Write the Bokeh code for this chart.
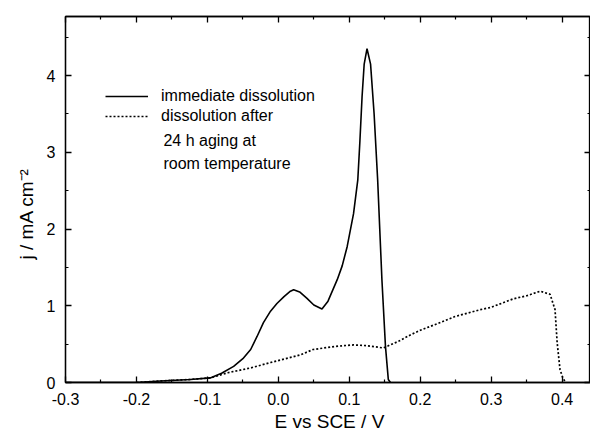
from bokeh.plotting import figure
from bokeh.models import (LinearAxis, FixedTicker, Label, Legend, LegendItem, Range1d, Title)
from bokeh.embed import file_html
from bokeh.resources import INLINE

# ---- data ----
immediate_E = [-0.30, -0.25, -0.20, -0.166, -0.124, -0.096, -0.08, -0.063, -0.05, -0.039,
               -0.03, -0.021, -0.011, -0.002, 0.008, 0.017, 0.0216, 0.03, 0.04, 0.05,
               0.0615, 0.07, 0.083, 0.09, 0.097, 0.106, 0.112, 0.115, 0.118, 0.121, 0.125,
               0.130, 0.135, 0.140, 0.146, 0.151, 0.155, 0.158]
immediate_j = [0.0, 0.0, 0.0, 0.02, 0.04, 0.06, 0.12, 0.21, 0.31, 0.43,
               0.60, 0.78, 0.93, 1.03, 1.12, 1.19, 1.21, 1.18, 1.10, 1.01,
               0.957, 1.06, 1.34, 1.52, 1.77, 2.20, 2.64, 3.15, 3.72, 4.15, 4.35,
               4.15, 3.50, 2.64, 1.34, 0.47, 0.04, 0.0]

aged_E = [-0.20, -0.166, -0.124, -0.096, -0.07, -0.039, -0.011, 0.031, 0.049, 0.08,
          0.106, 0.125, 0.148, 0.17, 0.186, 0.20, 0.225, 0.249, 0.285, 0.30,
          0.331, 0.35, 0.369, 0.383, 0.390, 0.393, 0.397, 0.401, 0.405]
aged_j = [0.0, 0.02, 0.04, 0.06, 0.13, 0.19, 0.26, 0.36, 0.43, 0.47,
          0.49, 0.48, 0.45, 0.54, 0.62, 0.68, 0.77, 0.86, 0.95, 0.98,
          1.09, 1.13, 1.19, 1.15, 0.95, 0.52, 0.17, 0.06, 0.0]

x_ticks = [-0.3, -0.2, -0.1, 0.0, 0.1, 0.2, 0.3, 0.4]
x_tick_labels = ["-0.3", "-0.2", "-0.1", "0.0", "0.1", "0.2", "0.3", "0.4"]
x_minor = [-0.25, -0.15, -0.05, 0.05, 0.15, 0.25, 0.35]
y_ticks = [0, 1, 2, 3, 4]
y_tick_labels = ["0", "1", "2", "3", "4"]
y_minor = [0.5, 1.5, 2.5, 3.5, 4.5]

x_title = "E vs SCE / V"
y_title = "j / mA cm\u207b\u00b2"
legend_labels = ["immediate dissolution", "dissolution after"]
legend_extra = ["24 h aging at", "room temperature"]

FONT = "Liberation Sans"

p = figure(width=590, height=437, output_backend="svg", toolbar_location=None,
           x_range=Range1d(-0.3, 0.44), y_range=Range1d(0, 4.77),
           x_axis_type=None, y_axis_type=None,
           min_border_left=65, min_border_right=0, min_border_top=16, min_border_bottom=54)
p.grid.visible = False
p.background_fill_color = "white"
p.border_fill_color = "white"
p.outline_line_color = "black"
p.outline_line_width = 1.3

def make_axis(ticks, minor, labels, show_labels):
    ax = LinearAxis(ticker=FixedTicker(ticks=ticks, minor_ticks=minor))
    ax.major_tick_in = 6
    ax.major_tick_out = 0
    ax.minor_tick_in = 3
    ax.minor_tick_out = 0
    ax.axis_line_width = 1.3
    ax.major_tick_line_width = 1.3
    ax.minor_tick_line_width = 1.2
    ax.major_label_text_font = FONT
    ax.major_label_text_color = "black"
    if show_labels:
        ax.major_label_overrides = {t: l for t, l in zip(ticks, labels)}
        ax.major_label_text_font_size = "16px"
        ax.major_label_standoff = 10
    else:
        ax.major_label_overrides = {t: "" for t in ticks}
        ax.major_label_text_font_size = "0px"
        ax.major_label_text_alpha = 0
        ax.major_label_standoff = 0
    return ax

p.add_layout(make_axis(x_ticks, x_minor, x_tick_labels, True), "below")
p.add_layout(make_axis(y_ticks, y_minor, y_tick_labels, True), "left")
p.add_layout(make_axis(x_ticks, x_minor, x_tick_labels, False), "above")
p.add_layout(make_axis(y_ticks, y_minor, y_tick_labels, False), "right")

# axis titles
p.add_layout(Title(text=x_title, align="left", offset=209, standoff=7, vertical_align="top",
                   text_font=FONT, text_font_size="19px", text_font_style="normal",
                   text_color="black"), "below")
p.add_layout(Title(text=y_title, align="left", offset=123, standoff=14,
                   text_font=FONT, text_font_size="19px", text_font_style="normal",
                   text_color="black"), "left")

r1 = p.line(immediate_E, immediate_j, line_color="black", line_width=1.6)
r2 = p.line(aged_E, aged_j, line_color="black", line_width=1.7, line_dash="2 2")

legend = Legend(items=[LegendItem(label=legend_labels[0], renderers=[r1]),
                       LegendItem(label=legend_labels[1], renderers=[r2])],
                location=(40, 256), padding=0, margin=0, spacing=0,
                glyph_width=43, glyph_height=20, label_height=20,
                label_standoff=13, label_text_font=FONT, label_text_font_size="16px",
                label_text_color="black",
                border_line_alpha=0, background_fill_alpha=0)
p.add_layout(legend, "center")

for i, t in enumerate(legend_extra):
    p.add_layout(Label(x=-0.162, y=3.156 - i * 0.30, text=t, text_font=FONT,
                       text_font_size="16px", text_baseline="middle", text_color="black"))

open("out.html", "w").write(file_html(p, INLINE))
